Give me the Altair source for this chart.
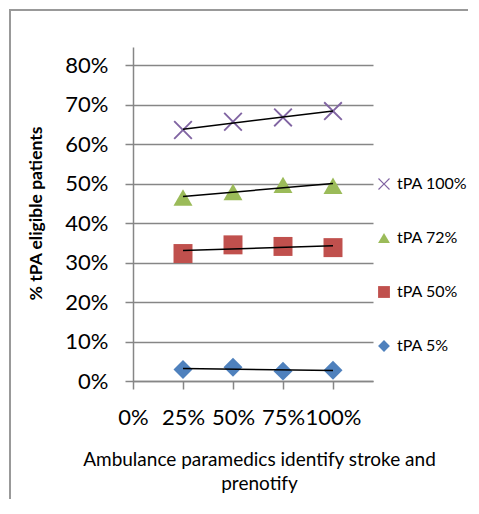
import altair as alt
import pandas as pd

series_names = ["tPA 100%", "tPA 72%", "tPA 50%", "tPA 5%"]
x_values = [0.25, 0.50, 0.75, 1.00]
tpa100 = [0.636, 0.657, 0.668, 0.684]
tpa72 = [0.465, 0.479, 0.497, 0.495]
tpa50 = [0.323, 0.345, 0.341, 0.338]
tpa5 = [0.029, 0.035, 0.025, 0.027]
colors = ["#8064A2", "#9BBB59", "#C0504D", "#4F81BD"]
x_ticks = [0, 0.25, 0.5, 0.75, 1.0]
y_ticks = [0, 0.1, 0.2, 0.3, 0.4, 0.5, 0.6, 0.7, 0.8]

rows = []
for name, vals in zip(series_names, [tpa100, tpa72, tpa50, tpa5]):
    for xv, yv in zip(x_values, vals):
        rows.append({"series": name, "x": xv, "y": yv})
df = pd.DataFrame(rows)

x_shape = "M-1,-0.86L-0.86,-1L0,-0.14L0.86,-1L1,-0.86L0.14,0L1,0.86L0.86,1L0,0.14L-0.86,1L-1,0.86L-0.14,0Z"
shapes = [x_shape, "triangle-up", "square", "diamond"]

FONT = "Lato"
GRAY = "#868686"

xscale = alt.Scale(domain=[0, 1.2], nice=False, zero=False)
yscale = alt.Scale(domain=[0, 0.8464], nice=False)

xaxis = alt.Axis(
    values=x_ticks, format=".0%", grid=False, domainColor=GRAY, domainWidth=1.5,
    tickColor=GRAY, tickWidth=1.5, tickSize=8, labelPadding=18, labelFontSize=22,
    labelFont=FONT, labelColor="#000", labelFlush=False,
    title=["Ambulance paramedics identify stroke and", "prenotify"],
    titleFont=FONT, titleFontSize=19, titleFontWeight="normal", titleColor="#000",
    titleX=126, titleY=69, titleAlign="center", titleBaseline="top", titleLineHeight=24,
)
yaxis = alt.Axis(
    values=y_ticks, format=".0%", grid=True, gridColor=GRAY, gridWidth=1.5,
    domainColor=GRAY, domainWidth=1.5, tickColor=GRAY, tickWidth=1.5, tickSize=8,
    labelPadding=17, labelFontSize=22, labelFont=FONT, labelColor="#000",
    title="% tPA eligible patients", titleFont=FONT, titleFontSize=17.5,
    titleFontWeight="bold", titleColor="#000", titleX=-97, titleY=166,
    titleAlign="center", titleBaseline="middle", titleAngle=270,
)

base = alt.Chart(df)

points = base.mark_point(filled=True, opacity=1, size=360, strokeWidth=0).encode(
    x=alt.X("x:Q", scale=xscale, axis=xaxis),
    y=alt.Y("y:Q", scale=yscale, axis=yaxis),
    color=alt.Color("series:N", scale=alt.Scale(domain=series_names, range=colors),
                    sort=series_names,
                    legend=alt.Legend(title=None, orient="none", legendX=243, legendY=129,
                                      labelFont=FONT, labelFontSize=16, labelColor="#000",
                                      symbolSize=140, symbolStrokeWidth=0, rowPadding=38,
                                      labelOffset=5, symbolType="square")),
    shape=alt.Shape("series:N", scale=alt.Scale(domain=series_names, range=shapes),
                    sort=series_names, legend=None),
)

trend = base.transform_regression("x", "y", groupby=["series"]).mark_line(
    color="#000", strokeWidth=1.5
).encode(
    x=alt.X("x:Q", scale=xscale),
    y=alt.Y("y:Q", scale=yscale),
    detail="series:N",
)

border = alt.Chart(pd.DataFrame({"a": [0]})).mark_rect(
    fillOpacity=0, stroke="#999", strokeWidth=2
).encode(
    x=alt.value(-123), x2=alt.value(380), y=alt.value(-37), y2=alt.value(520)
)

chart = alt.layer(border, points, trend).properties(
    width=240, height=334,
    autosize=alt.AutoSizeParams(type="none"),
    padding={"left": 125, "top": 39, "right": 95, "bottom": 118},
).configure_view(stroke=None).resolve_scale(color="shared", shape="shared")

chart.save("out.html", embed_options={"renderer": "svg", "actions": False})
